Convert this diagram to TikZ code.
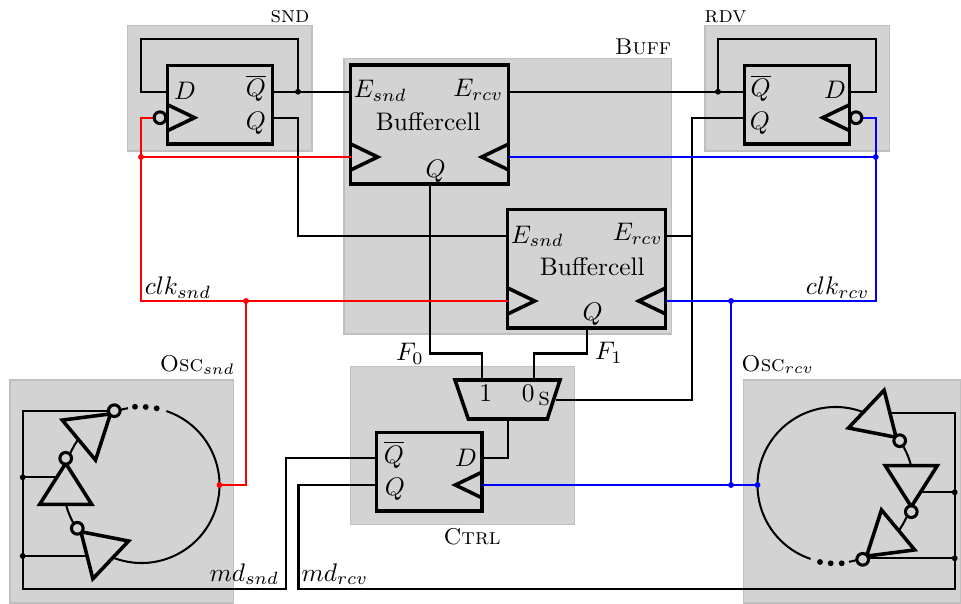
\documentclass[tikz,border=0pt]{standalone}
\definecolor{boxgray}{HTML}{D3D3D3}
\definecolor{edgegray}{HTML}{BFBFBF}
\tikzset{
  area/.style={draw=edgegray,fill=boxgray,line width=.6pt},
  wire/.style={line width=.8pt,line join=miter},
  redwire/.style={wire,red},
  bluewire/.style={wire,blue},
  cellline/.style={line width=1.4pt,line join=miter},
  flipflop/.style={draw,cellline,inner sep=0pt,minimum width=41.4pt,minimum height=31pt},
  buffercell/.style={draw,cellline,inner sep=0pt,minimum width=62.2pt,minimum height=46.7pt},
  lab/.style={anchor=base,inner sep=0pt},
  titlelab/.style={lab,font=\small},
  dot/.style={circle,fill,inner sep=0pt,minimum size=2.3pt},
  bubble/.style={circle,draw,fill=boxgray,line width=1.2pt,inner sep=0pt,minimum size=4.6pt},
  inv/.pic={
    \draw[cellline,fill=boxgray] (-46,-26) -- (-46,26) -- (-5,0) -- cycle;
    \node[bubble] (-out) at (0,0) {};
  }
}
\begin{document}
\begin{tikzpicture}[x=.3937pt,y=.3937pt,yscale=-1]
\useasboundingbox (0,0) rectangle (961,604);

\draw[area] (127.5,25.7) rectangle (312,151);
\draw[area] (705,25.7) rectangle (889.3,151);
\draw[area] (344,58.3) rectangle (671.7,334);
\draw[area] (350.7,366.7) rectangle (574.3,524.3);
\draw[area] (10,380) rectangle (233.3,603);
\draw[area] (743.3,380) rectangle (961,603);

\node[flipflop] (ffsnd) at (220.1,104.7) {};
\node[flipflop] (ffrdv) at (796.9,104.7) {};
\node[flipflop] (ffctrl) at (429.2,471.7) {};
\node[buffercell] (bufa) at (429.7,124.5) {};
\node[buffercell] (bufb) at (586.7,268.8) {};

\coordinate (sndD) at (167.5,91.7);
\coordinate (sndQb) at (272.7,91.7);
\coordinate (sndQ) at (272.7,117.7);
\coordinate (sndjoin) at (298,91.7);
\coordinate (sndtop) at (298,39);
\coordinate (sndleft) at (141,39);
\coordinate (sndback) at (141,91.7);
\coordinate (sndturn) at (298,117.7);
\coordinate (sndlow) at (298,235.7);
\coordinate (rdvD) at (849.7,91.7);
\coordinate (rdvQb) at (744,91.7);
\coordinate (rdvQ) at (744,117.7);
\coordinate (rdvjoin) at (718,91.7);
\coordinate (rdvtop) at (718,39);
\coordinate (rdvright) at (875.7,39);
\coordinate (rdvback) at (875.7,91.7);
\coordinate (aEsnd) at (350.7,91.7);
\coordinate (aErcv) at (508.7,91.7);
\coordinate (aQ) at (430,183.7);
\coordinate (aclks) at (350.7,157);
\coordinate (aclkr) at (508.7,157);
\coordinate (bEsnd) at (507.7,235.7);
\coordinate (bErcv) at (665.7,235.7);
\coordinate (bQ) at (587,328.3);
\coordinate (bclks) at (507.7,301);
\coordinate (bclkr) at (665.7,301);
\coordinate (rail) at (691.7,117.7);
\coordinate (railE) at (691.7,235.7);
\coordinate (rails) at (691.7,400);
\coordinate (muxs) at (555.7,400);
\coordinate (muxa) at (482.3,380);
\coordinate (muxb) at (534,380);
\coordinate (muxo) at (507.7,419);
\coordinate (ktopa) at (482.3,353.5);
\coordinate (ktopb) at (534,353.5);
\coordinate (kleft) at (430,353.5);
\coordinate (kright) at (587,353.5);
\coordinate (ctrlD) at (482.3,458.3);
\coordinate (ctrljoin) at (507.7,458.3);
\coordinate (ctrlQb) at (376,458.3);
\coordinate (ctrlQ) at (376,484.7);
\coordinate (ctrlclk) at (482.3,485);
\coordinate (mdsa) at (285.7,458.3);
\coordinate (mdsb) at (285.7,589.3);
\coordinate (mdsc) at (22.7,589.3);
\coordinate (mdsd) at (22.7,411);
\coordinate (mdse) at (110,411);
\coordinate (mdra) at (298.5,484.7);
\coordinate (mdrb) at (298.5,589.3);
\coordinate (mdrc) at (954.7,589.3);
\coordinate (mdrd) at (954.7,413.3);
\coordinate (invrtop) at (890,413.3);
\coordinate (lmid) at (22.7,477.3);
\coordinate (llow) at (22.7,556);
\coordinate (lmidend) at (55,477.3);
\coordinate (llowend) at (86,556);
\coordinate (rmid) at (954.7,492.3);
\coordinate (rlow) at (954.7,558.3);
\coordinate (rmidend) at (920,492.3);
\coordinate (rlowend) at (866,558.3);
\coordinate (sclk) at (154,117.7);
\coordinate (sa) at (141,117.7);
\coordinate (sb) at (141,157);
\coordinate (sc) at (141,301);
\coordinate (sd) at (246,301);
\coordinate (se) at (246,485);
\coordinate (oscsin) at (219.5,485);
\coordinate (rclk) at (862.5,117.7);
\coordinate (ra) at (875.7,117.7);
\coordinate (rb) at (875.7,157);
\coordinate (rc) at (875.7,301);
\coordinate (rd) at (731,301);
\coordinate (re) at (731,485);
\coordinate (oscrin) at (757.5,485);

\draw[wire] (sndD) -- (sndback) -- (sndleft) -- (sndtop) -- (sndjoin);
\draw[wire] (sndQb) -- (sndjoin) -- (aEsnd);
\draw[wire] (sndQ) -- (sndturn) -- (sndlow) -- (bEsnd);
\draw[wire] (rdvD) -- (rdvback) -- (rdvright) -- (rdvtop) -- (rdvjoin);
\draw[wire] (aErcv) -- (rdvjoin) -- (rdvQb);
\draw[wire] (rdvQ) -- (rail) -- (rails) -- (muxs);
\draw[wire] (bErcv) -- (railE);
\draw[wire] (aQ) -- (kleft) -- (ktopa) -- (muxa);
\draw[wire] (bQ) -- (kright) -- (ktopb) -- (muxb);
\draw[wire] (muxo) -- (ctrljoin) -- (ctrlD);
\draw[wire] (ctrlQb) -- (mdsa) -- (mdsb) -- (mdsc) -- (mdsd) -- (mdse);
\draw[wire] (ctrlQ) -- (mdra) -- (mdrb) -- (mdrc) -- (mdrd) -- (invrtop);
\draw[wire] (lmid) -- (lmidend);
\draw[wire] (llow) -- (llowend);
\draw[wire] (rmid) -- (rmidend);
\draw[wire] (rlow) -- (rlowend);

\draw[wire] (141.5,485) ++(-71.4:78) arc (-71.4:260:78);
\draw[wire] (835.5,485) ++(108.6:78) arc (108.6:440:78);

\pic[rotate=39.7] (sinva) at (114.3,410.7) {inv};
\pic[rotate=90] (sinvb) at (65.7,458.3) {inv};
\pic[rotate=136.6] (sinvc) at (77.3,528.3) {inv};
\pic[rotate=-43.4] (rinva) at (899.7,440.7) {inv};
\pic[rotate=-90] (rinvb) at (911.3,511.7) {inv};
\pic[rotate=-140.3] (rinvc) at (862.7,559.3) {inv};

\foreach \x/\y in {135/406.7, 145.7/407, 156.7/408.3, 820/562, 830.7/563.3, 841.7/563.3}
{
  \node[dot] at (\x,\y) {};
}

\draw[redwire] (sclk) -- (sa) -- (sc) -- (bclks);
\draw[redwire] (sb) -- (aclks);
\draw[redwire] (sd) -- (se) -- (oscsin);
\draw[bluewire] (rclk) -- (ra) -- (rc) -- (bclkr);
\draw[bluewire] (rb) -- (aclkr);
\draw[bluewire] (rd) -- (re);
\draw[bluewire] (ctrlclk) -- (oscrin);

\node[dot] (dsnd) at (sndjoin) {};
\node[dot] (drdv) at (rdvjoin) {};
\node[dot] (dlmid) at (lmid) {};
\node[dot] (dllow) at (llow) {};
\node[dot] (drmid) at (rmid) {};
\node[dot] (drlow) at (rlow) {};
\node[dot,red] (dsb) at (sb) {};
\node[dot,red] (dsd) at (sd) {};
\node[dot,red] (dosc) at (oscsin) {};
\node[dot,blue] (drb) at (rb) {};
\node[dot,blue] (drd) at (rd) {};
\node[dot,blue] (dre) at (re) {};
\node[dot,blue] (drosc) at (oscrin) {};

\node[bubble] (bubsnd) at (160,117.7) {};
\node[bubble] (bubrdv) at (856,117.7) {};
\foreach \x/\y/\d in {167.5/117.7/1, 350.7/157/1, 507.7/301/1, 849.7/117.7/-1, 508.7/157/-1, 665.7/301/-1, 482.3/485/-1}
{
  \draw[cellline] (\x,\y-13) -- (\x+\d*27,\y) -- (\x,\y+13);
}
\draw[cellline] (455,380) -- (560,380) -- (547.3,419) -- (468.3,419) -- cycle;

\node[titlelab] (lsnd) at (290,22.7) {\textsc{snd}};
\node[titlelab] (lrdv) at (725.5,22.7) {\textsc{rdv}};
\node[titlelab] (lbuff) at (643,55) {\textsc{Buff}};
\node[titlelab] (lctrl) at (472,544) {\textsc{Ctrl}};
\node[titlelab] (loscs) at (197.3,371.7) {\textsc{Osc}$_{snd}$};
\node[titlelab] (loscr) at (777.7,371) {\textsc{Osc}$_{rcv}$};

\node[lab] (lsD) at (185,100) {$D$};
\node[lab] (lsQb) at (256,97) {$\overline{Q}$};
\node[lab] (lsQ) at (256,130) {$Q$};
\node[lab] (lrD) at (835,98.5) {$D$};
\node[lab] (lrQb) at (760.7,97) {$\overline{Q}$};
\node[lab] (lrQ) at (760,130) {$Q$};
\node[lab] (lcD) at (466,466.7) {$D$};
\node[lab] (lcQb) at (394,463.3) {$\overline{Q}$};
\node[lab] (lcQ) at (395,495.7) {$Q$};

\node[lab] (laEs) at (380.3,98) {$E_{snd}$};
\node[lab] (laEr) at (478.3,97) {$E_{rcv}$};
\node[lab] (lacell) at (428.3,130.7) {Buffercell};
\node[lab] (laQ) at (435.7,178) {$Q$};
\node[lab] (lbEs) at (537.3,243) {$E_{snd}$};
\node[lab] (lbEr) at (637.7,241) {$E_{rcv}$};
\node[lab] (lbcell) at (592.3,275.7) {Buffercell};
\node[lab] (lbQ) at (592.7,320) {$Q$};

\node[lab] (lclks) at (178,294.3) {$clk_{snd}$};
\node[lab] (lclkr) at (837.7,294.3) {$clk_{rcv}$};
\node[lab] (lF0) at (410,360.7) {$F_0$};
\node[lab] (lF1) at (609,359.3) {$F_1$};
\node[lab] (lone) at (485.7,401) {1};
\node[lab] (lzero) at (528.3,401) {0};
\node[lab] (lsel) at (544.3,405) {\textsc{s}};
\node[lab] (lmds) at (244.3,581) {$md_{snd}$};
\node[lab] (lmdr) at (335,581) {$md_{rcv}$};

\end{tikzpicture}
\end{document}
